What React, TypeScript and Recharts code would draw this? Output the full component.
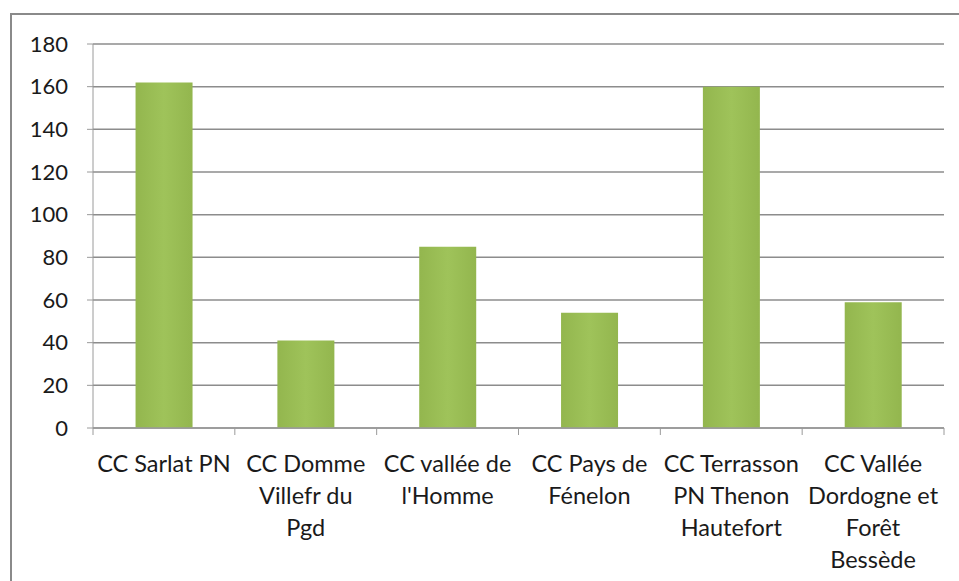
import { BarChart, Bar, XAxis, YAxis, CartesianGrid } from "recharts"

const categories = [
  "CC Sarlat PN",
  "CC Domme Villefr du Pgd",
  "CC vallée de l'Homme",
  "CC Pays de Fénelon",
  "CC Terrasson PN Thenon Hautefort",
  "CC Vallée Dordogne et Forêt Bessède",
]

// label lines as wrapped in the original
const labelLines = [
  ["CC Sarlat PN"],
  ["CC Domme", "Villefr du", "Pgd"],
  ["CC vallée de", "l'Homme"],
  ["CC Pays de", "Fénelon"],
  ["CC Terrasson", "PN Thenon", "Hautefort"],
  ["CC Vallée", "Dordogne et", "Forêt", "Bessède"],
]

const values = [162, 41, 85, 54, 160, 59]

const yTicks = [0, 20, 40, 60, 80, 100, 120, 140, 160, 180]

const data = categories.map((name, i) => ({ name, value: values[i] }))

const FONT = "Lato, 'Open Sans', sans-serif"
const AXIS_GRAY = "#9a9a9a"

const XTick = (props: any) => {
  const { x, y, payload, index } = props
  const half = payload && payload.offset ? payload.offset : 71
  const lines = labelLines[index] || [String(payload.value)]
  return (
    <g>
      <line x1={x - half} x2={x - half} y1={y} y2={y + 7} stroke={AXIS_GRAY} />
      {index === categories.length - 1 && (
        <line x1={x + half} x2={x + half} y1={y} y2={y + 7} stroke={AXIS_GRAY} />
      )}
      <text x={x} y={y + 44} textAnchor="middle" fill="#1a1a1a" fontSize={23.5} fontFamily={FONT}>
        {lines.map((l, i) => (
          <tspan key={i} x={x} dy={i === 0 ? 0 : 32}>
            {l}
          </tspan>
        ))}
      </text>
    </g>
  )
}

export default function App() {
  return (
    <div style={{ position: "absolute", left: 0, top: 0, width: 959, height: 581, background: "#fff", overflow: "hidden" }}>
      <div
        style={{
          position: "absolute",
          left: 10,
          top: 13,
          width: 960,
          height: 580,
          borderTop: "2px solid #8a8a8a",
          borderLeft: "2px solid #8a8a8a",
        }}
      />
      <div style={{ position: "absolute", left: 0, top: 0 }}>
        <BarChart
          width={959}
          height={581}
          data={data}
          margin={{ top: 44, right: 15, left: 23, bottom: 0 }}
          barCategoryGap="30%"
        >
          <defs>
            <linearGradient id="barFill" x1="0" y1="0" x2="1" y2="0">
              <stop offset="0%" stopColor="#93b64e" />
              <stop offset="50%" stopColor="#9fc35a" />
              <stop offset="100%" stopColor="#93b64e" />
            </linearGradient>
          </defs>
          <CartesianGrid vertical={false} stroke="#8c8c8c" strokeWidth={1.5} />
          <XAxis
            dataKey="name"
            height={153}
            interval={0}
            tickSize={0}
            tickMargin={0}
            tick={<XTick />}
            axisLine={{ stroke: AXIS_GRAY, strokeWidth: 1.5 }}
          />
          <YAxis
            width={70}
            domain={[0, 180]}
            ticks={yTicks}
            interval={0}
            tickSize={6}
            tickMargin={19}
            tickLine={{ stroke: AXIS_GRAY }}
            axisLine={{ stroke: AXIS_GRAY }}
            tick={{ fill: "#1a1a1a", fontSize: 22, fontFamily: FONT }}
          />
          <Bar dataKey="value" fill="url(#barFill)" isAnimationActive={false} />
        </BarChart>
      </div>
    </div>
  )
}
